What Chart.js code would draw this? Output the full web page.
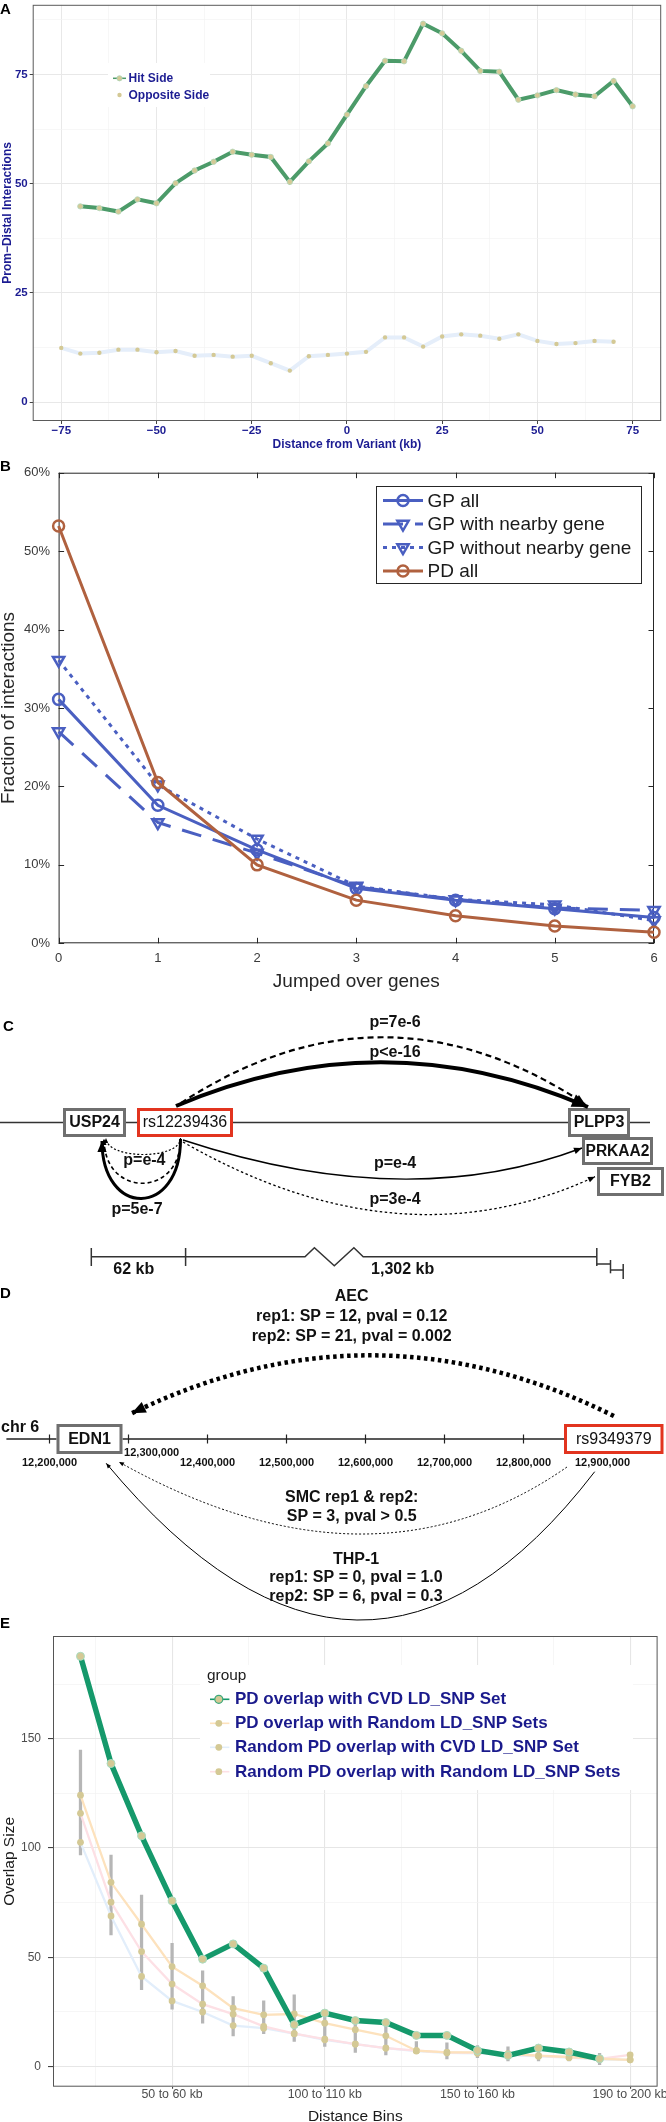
<!DOCTYPE html>
<html lang="en">
<head>
<meta charset="utf-8">
<title>Promoter-distal interactions</title>
<script src="https://cdn.jsdelivr.net/npm/chart.js@4.4.1/dist/chart.umd.min.js"></script>
<style>
  html, body { margin: 0; padding: 0; background: #fff; }
  #page { position: relative; width: 666px; height: 2122px; overflow: hidden; font-family: 'Liberation Sans', Arial, sans-serif; }
  #page canvas { position: absolute; left: 0; }
  .panel-letter { position: absolute; font-weight: bold; font-size: 15px; line-height: 1; color: #000; }
</style>
</head>
<body>
<div id="page">
  <canvas id="chart-a" width="666" height="455" style="top:0"></canvas>
  <canvas id="chart-b" width="666" height="545" style="top:455px"></canvas>
  <canvas id="diagram-c" width="666" height="290" style="top:1000px"></canvas>
  <canvas id="diagram-d" width="666" height="345" style="top:1280px"></canvas>
  <canvas id="chart-e" width="666" height="497" style="top:1625px"></canvas>
  <div class="panel-letter" style="left:0;top:1px">A</div>
  <div class="panel-letter" style="left:0;top:458px">B</div>
  <div class="panel-letter" style="left:3px;top:1018px">C</div>
  <div class="panel-letter" style="left:0;top:1285px">D</div>
  <div class="panel-letter" style="left:0;top:1615px">E</div>
</div>
<script>
const FONT = "'Liberation Sans', Arial, Helvetica, sans-serif";
const NAVY = '#1c1c92';
const TAN = '#d4c995';

// --- A: interactions by distance from variant ---
const distA = [-75, -70, -65, -60, -55, -50, -45, -40, -35, -30, -25, -20, -15, -10, -5, 0, 5, 10, 15, 20, 25, 30, 35, 40, 45, 50, 55, 60, 65, 70, 75];
const hitSide = [null, 44.8, 44.4, 43.6, 46.4, 45.5, 50.1, 53.0, 55.0, 57.3, 56.6, 56.1, 50.4, 55.1, 59.2, 65.8, 72.3, 78.1, 78.0, 86.6, 84.4, 80.4, 75.8, 75.6, 69.2, 70.2, 71.4, 70.4, 70.0, 73.5, 67.7];
const oppositeSide = [12.4, 11.1, 11.3, 12.0, 12.0, 11.4, 11.7, 10.6, 10.8, 10.4, 10.6, 8.9, 7.2, 10.5, 10.8, 11.1, 11.5, 14.8, 14.8, 12.7, 15.0, 15.5, 15.2, 14.5, 15.5, 14.0, 13.3, 13.5, 14.0, 13.8, null];
const yTicksA = [0, 12.5, 25, 37.5, 50, 62.5, 75, 87.5];
const yMajorA = [0, 25, 50, 75];
const xTicksA = [-75, -62.5, -50, -37.5, -25, -12.5, 0, 12.5, 25, 37.5, 50, 62.5, 75];
const xMajorA = [-75, -50, -25, 0, 25, 50, 75];

// --- B: jumped over genes ---
const jumped = [0, 1, 2, 3, 4, 5, 6];
const gpAll = [31.1, 17.6, 11.9, 7.0, 5.5, 4.4, 3.3];
const gpNearby = [27.0, 15.4, 11.5, 7.2, 5.6, 4.5, 4.2];
const gpNoNearby = [36.1, 20.2, 13.3, 7.3, 5.6, 4.9, 2.9];
const pdAll = [53.2, 20.5, 10.0, 5.5, 3.5, 2.2, 1.4];
const yTicksB = [0, 10, 20, 30, 40, 50, 60];

// --- C: rs12239436 locus ---
const genesC = ['USP24', 'PLPP3', 'PRKAA2', 'FYB2'];
const snpC = 'rs12239436';
const pvalsC = ['p=7e-6', 'p<e-16', 'p=e-4', 'p=5e-7', 'p=e-4', 'p=3e-4'];
const distLabelsC = ['62 kb', '1,302 kb'];

// --- D: rs9349379 / EDN1 locus ---
const chromD = 'chr 6';
const geneD = 'EDN1';
const snpD = 'rs9349379';
const posTicksD = [12200000, 12300000, 12400000, 12500000, 12600000, 12700000, 12800000, 12900000];
const aecText = ['AEC', 'rep1: SP = 12, pval = 0.12', 'rep2: SP = 21, pval = 0.002'];
const smcText = ['SMC rep1 & rep2:', 'SP = 3, pval > 0.5'];
const thpText = ['THP-1', 'rep1: SP = 0, pval = 1.0', 'rep2: SP = 6, pval = 0.3'];

// --- E: overlap size by distance bin ---
const binPos = [2, 3, 4, 5, 6, 7, 8, 9, 10, 11, 12, 13, 14, 15, 16, 17, 18, 19, 20];
const pdCvd = [187.8, 138.7, 105.6, 75.8, 49.1, 56.1, 45.0, 19.1, 24.4, 21.0, 20.1, 14.2, 14.2, 7.3, 5.0, 8.4, 6.6, 3.5, null];
const pdRandom = [124.2, 84.3, 65.1, 45.7, 36.9, 26.7, 23.6, 24.0, 19.8, 16.8, 14.0, 7.2, 6.4, 6.4, 5.8, 4.9, 4.3, 3.5, 3.0];
const randomCvd = [102.6, 68.9, 41.2, 30.0, 24.9, 18.7, 17.5, 15.0, 12.2, 10.2, 8.4, 7.0, 6.2, 6.0, 5.3, 4.6, 4.0, 3.2, 3.0];
const randomRandom = [115.9, 75.2, 52.6, 37.7, 28.5, 23.9, 18.3, 15.0, 12.5, 10.2, 8.4, 7.2, 6.4, 6.2, 5.5, 4.8, 4.2, 3.4, 5.3];
const rangeLow = [96.8, 60.2, 35.1, 26.2, 19.8, 14.0, 15.0, 11.4, 9.1, 6.4, 5.3, 6.1, 3.4, 4.0, 2.5, 2.5, 2.5, 0.8, 2.5];
const rangeHigh = [144.8, 96.8, 78.5, 56.4, 43.8, 32.0, 30.0, 32.8, 24.4, 21.4, 18.3, 11.4, 10.8, 9.5, 9.0, 7.0, 6.0, 6.0, 6.0];
const groupsE = ['PD overlap with CVD LD_SNP Set', 'PD overlap with Random LD_SNP Sets', 'Random PD overlap with CVD LD_SNP Set', 'Random PD overlap with Random LD_SNP Sets'];
const xTicksE = [2.5, 5, 7.5, 10, 12.5, 15, 17.5, 20];
const xLabelPosE = [5, 10, 15, 20];
const xLabelsE = ['50 to 60 kb', '100 to 110 kb', '150 to 160 kb', '190 to 200 kb'];
const yTicksE = [0, 25, 50, 75, 100, 125, 150, 175];
const yMajorE = [0, 50, 100, 150];

Chart.defaults.font.family = FONT;

// ---------- drawing helpers ----------
function dot(ctx, x, y, r, fill, stroke, lw) {
    ctx.beginPath();
    ctx.arc(x, y, r, 0, Math.PI * 2);
    ctx.fillStyle = fill;
    ctx.fill();
    if (stroke) {
        ctx.lineWidth = lw || 1;
        ctx.strokeStyle = stroke;
        ctx.stroke();
    }
}

function segment(ctx, x1, y1, x2, y2, color, width, dash) {
    ctx.save();
    ctx.strokeStyle = color;
    ctx.lineWidth = width;
    ctx.setLineDash(dash || []);
    ctx.beginPath();
    ctx.moveTo(x1, y1);
    ctx.lineTo(x2, y2);
    ctx.stroke();
    ctx.restore();
}

function polyline(ctx, pts, color, width) {
    ctx.save();
    ctx.strokeStyle = color;
    ctx.lineWidth = width;
    ctx.beginPath();
    pts.forEach((p, i) => i ? ctx.lineTo(p[0], p[1]) : ctx.moveTo(p[0], p[1]));
    ctx.stroke();
    ctx.restore();
}

function arrowHead(ctx, x, y, ang, len) {
    const half = len * 0.42;
    ctx.save();
    ctx.translate(x, y);
    ctx.rotate(ang);
    ctx.beginPath();
    ctx.moveTo(0, 0);
    ctx.lineTo(-len, -half);
    ctx.lineTo(-len, half);
    ctx.closePath();
    ctx.fillStyle = '#000';
    ctx.fill();
    ctx.restore();
}

function arc(ctx, pts, opt) {
    ctx.save();
    ctx.strokeStyle = '#000';
    ctx.lineWidth = opt.width;
    ctx.setLineDash(opt.dash || []);
    ctx.beginPath();
    ctx.moveTo(pts[0][0], pts[0][1]);
    if (pts.length === 3) {
        ctx.quadraticCurveTo(pts[1][0], pts[1][1], pts[2][0], pts[2][1]);
    } else {
        ctx.bezierCurveTo(pts[1][0], pts[1][1], pts[2][0], pts[2][1], pts[3][0], pts[3][1]);
    }
    ctx.stroke();
    ctx.restore();
    if (opt.arrow) {
        const end = pts[pts.length - 1];
        const prev = pts[pts.length - 2];
        arrowHead(ctx, end[0], end[1], Math.atan2(end[1] - prev[1], end[0] - prev[0]), opt.arrow);
    }
}

function text(ctx, str, x, y, size, weight, align) {
    ctx.font = `${weight || 'bold'} ${size}px ${FONT}`;
    ctx.fillStyle = '#111';
    ctx.textAlign = align || 'center';
    ctx.textBaseline = 'middle';
    ctx.fillText(str, x, y);
}

function labelBox(ctx, str, x, y, w, h, color, weight) {
    ctx.save();
    ctx.fillStyle = '#fff';
    ctx.fillRect(x, y, w, h);
    ctx.strokeStyle = color;
    ctx.lineWidth = 3;
    ctx.strokeRect(x + 1.5, y + 1.5, w - 3, h - 3);
    ctx.font = `${weight || 'bold'} 16px ${FONT}`;
    ctx.fillStyle = '#111';
    ctx.textAlign = 'center';
    ctx.textBaseline = 'middle';
    ctx.fillText(str, x + w / 2, y + h / 2 + 0.5, w - 7);
    ctx.restore();
}

function marker(ctx, style, x, y, r, color, lw) {
    ctx.save();
    ctx.strokeStyle = color;
    ctx.lineWidth = lw;
    ctx.setLineDash([]);
    ctx.beginPath();
    if (style === 'circle') {
        ctx.arc(x, y, r, 0, Math.PI * 2);
    } else {
        const w = r * Math.sin(Math.PI / 3);
        ctx.moveTo(x, y + r);
        ctx.lineTo(x - w, y - r / 2);
        ctx.lineTo(x + w, y - r / 2);
        ctx.closePath();
    }
    ctx.stroke();
    ctx.restore();
}

const baseOptions = () => ({
    animation: false,
    responsive: false,
    devicePixelRatio: 1,
    plugins: { legend: { display: false }, tooltip: { enabled: false } }
});

// ---------- panel A ----------
function renderPanelA() {
    const frameA = {
        id: 'frameA',
        afterDatasetsDraw(chart) {
            const { ctx, chartArea: a } = chart;
            ctx.save();
            ctx.strokeStyle = '#5a5a5a';
            ctx.lineWidth = 1;
            ctx.strokeRect(a.left + 0.5, a.top + 0.5, a.width - 1, a.height - 1);

            // legend
            const opp = chart.data.datasets[0];
            const hit = chart.data.datasets[1];
            ctx.fillStyle = '#fff';
            ctx.fillRect(108, 63, 102, 44);
            segment(ctx, 113, 78.3, 126, 78.3, hit.borderColor, 1.5);
            dot(ctx, 119.5, 78.3, 2.6, TAN, '#a8d3b4', 0.8);
            dot(ctx, 119.5, 95, 2.2, TAN);
            ctx.font = `bold 12px ${FONT}`;
            ctx.fillStyle = NAVY;
            ctx.textAlign = 'left';
            ctx.textBaseline = 'middle';
            ctx.fillText(hit.label, 128.5, 78.8);
            ctx.fillText(opp.label, 128.5, 95.5);
            ctx.restore();
        }
    };

    new Chart(document.getElementById('chart-a'), {
        type: 'line',
        data: {
            datasets: [{
                label: 'Opposite Side',
                data: distA.map((x, i) => ({ x, y: oppositeSide[i] })),
                borderColor: '#e5eefa',
                borderWidth: 4,
                pointRadius: 2.2,
                pointBackgroundColor: TAN,
                pointBorderWidth: 0,
                order: 1
            }, {
                label: 'Hit Side',
                data: distA.map((x, i) => ({ x, y: hitSide[i] })),
                borderColor: '#4c9b69',
                borderWidth: 4,
                pointRadius: 2.7,
                pointBackgroundColor: TAN,
                pointBorderColor: '#b4d9bd',
                pointBorderWidth: 0.8,
                order: 0
            }]
        },
        options: {
            ...baseOptions(),
            layout: { padding: { top: 2.7, right: 2, left: 0, bottom: 0 } },
            scales: {
                x: {
                    type: 'linear',
                    min: -82.5,
                    max: 82.5,
                    afterBuildTicks: s => { s.ticks = xTicksA.map(v => ({ value: v })); },
                    afterFit: s => { s.height = 34; s.paddingLeft = 0; s.paddingRight = 0; },
                    ticks: {
                        autoSkip: false,
                        maxRotation: 0,
                        padding: 0,
                        color: NAVY,
                        font: { size: 11.5, weight: 'bold' },
                        callback: v => xMajorA.includes(v) ? String(v).replace('-', '\u2212') : ''
                    },
                    grid: {
                        color: c => xMajorA.includes(c.tick.value) ? '#e8e8e8' : '#f3f3f3',
                        lineWidth: c => xMajorA.includes(c.tick.value) ? 1 : 0.7,
                        tickLength: 3,
                        tickColor: c => xMajorA.includes(c.tick.value) ? '#444' : 'rgba(0,0,0,0)'
                    },
                    border: { display: false },
                    title: {
                        display: true,
                        text: 'Distance from Variant (kb)',
                        color: NAVY,
                        font: { size: 12, weight: 'bold' },
                        padding: { top: 0, bottom: 2.8 }
                    }
                },
                y: {
                    min: -4.33,
                    max: 90.93,
                    afterBuildTicks: s => { s.ticks = yTicksA.map(v => ({ value: v })); },
                    afterFit: s => { s.width = 32.7; s.paddingTop = 0; s.paddingBottom = 0; },
                    ticks: {
                        autoSkip: false,
                        padding: 2,
                        color: NAVY,
                        font: { size: 11.5, weight: 'bold' },
                        callback: v => yMajorA.includes(v) ? String(v) : ''
                    },
                    grid: {
                        color: c => yMajorA.includes(c.tick.value) ? '#e8e8e8' : '#f3f3f3',
                        lineWidth: c => yMajorA.includes(c.tick.value) ? 1 : 0.7,
                        tickLength: 3,
                        tickColor: c => yMajorA.includes(c.tick.value) ? '#444' : 'rgba(0,0,0,0)'
                    },
                    border: { display: false },
                    title: {
                        display: true,
                        text: 'Prom\u2212Distal Interactions',
                        color: NAVY,
                        font: { size: 12, weight: 'bold' },
                        padding: { top: 0, bottom: 0 }
                    }
                }
            }
        },
        plugins: [frameA]
    });
}

// ---------- panel B ----------
function renderPanelB() {
    const series = (label, values, color, style, dash, order) => ({
        label,
        data: jumped.map((x, i) => ({ x, y: values[i] })),
        borderColor: color,
        borderWidth: 3,
        borderDash: dash,
        pointStyle: style,
        pointRotation: style === 'triangle' ? 180 : 0,
        pointRadius: style === 'triangle' ? 6.5 : 5.5,
        pointBorderWidth: 2.5,
        pointBorderColor: color,
        pointBackgroundColor: 'rgba(0,0,0,0)',
        clip: false,
        order
    });

    const frameB = {
        id: 'frameB',
        beforeDatasetsDraw(chart) {
            const { ctx, chartArea: a, scales: { x, y } } = chart;
            ctx.save();
            ctx.strokeStyle = '#262626';
            ctx.lineWidth = 1;
            ctx.strokeRect(a.left + 0.5, a.top + 0.5, a.width - 1, a.height - 1);
            jumped.forEach(v => {
                const px = Math.round(x.getPixelForValue(v)) + 0.5;
                segment(ctx, px, a.bottom, px, a.bottom - 5.5, '#262626', 1);
                segment(ctx, px, a.top, px, a.top + 5.5, '#262626', 1);
            });
            yTicksB.forEach(v => {
                const py = Math.round(y.getPixelForValue(v)) + 0.5;
                segment(ctx, a.left, py, a.left + 5.5, py, '#262626', 1);
                segment(ctx, a.right, py, a.right - 5.5, py, '#262626', 1);
            });
            ctx.restore();
        },
        afterDraw(chart) {
            const ctx = chart.ctx;
            ctx.save();
            ctx.fillStyle = '#fff';
            ctx.fillRect(376.5, 31.5, 265, 97);
            ctx.strokeStyle = '#262626';
            ctx.lineWidth = 1;
            ctx.strokeRect(376.5, 31.5, 265, 97);
            const rowY = [45.5, 69, 92.5, 116];
            chart.data.datasets.forEach((ds, i) => {
                const yy = rowY[i];
                segment(ctx, 383, yy, 423, yy, ds.borderColor, 3, ds.borderDash);
                marker(ctx, ds.pointStyle, 403, yy, ds.pointRadius, ds.borderColor, 2.5);
                ctx.font = `19px ${FONT}`;
                ctx.fillStyle = '#1a1a1a';
                ctx.textAlign = 'left';
                ctx.textBaseline = 'middle';
                ctx.fillText(ds.label, 427.5, yy + 1);
            });
            ctx.restore();
        }
    };

    new Chart(document.getElementById('chart-b'), {
        type: 'line',
        data: {
            datasets: [
                series('GP all', gpAll, '#4a5fc1', 'circle', [], 3),
                series('GP with nearby gene', gpNearby, '#4a5fc1', 'triangle', [20, 12], 2),
                series('GP without nearby gene', gpNoNearby, '#4a5fc1', 'triangle', [4, 5], 1),
                series('PD all', pdAll, '#b0613f', 'circle', [], 0)
            ]
        },
        options: {
            ...baseOptions(),
            layout: { padding: { top: 17.7, right: 12, left: 0, bottom: 0 } },
            scales: {
                x: {
                    type: 'linear',
                    min: 0,
                    max: 6,
                    afterFit: s => { s.height = 56.7; s.paddingLeft = 0; s.paddingRight = 0; },
                    ticks: { stepSize: 1, autoSkip: false, maxRotation: 0, padding: 6.9, color: '#3a3a3a', font: { size: 13 } },
                    grid: { display: false, drawTicks: false },
                    border: { display: false },
                    title: {
                        display: true,
                        text: 'Jumped over genes',
                        color: '#262626',
                        font: { size: 19 },
                        padding: { top: 0, bottom: 6.9 }
                    }
                },
                y: {
                    min: 0,
                    max: 60,
                    afterFit: s => { s.width = 58.6; s.paddingTop = 0; s.paddingBottom = 0; },
                    ticks: { stepSize: 10, padding: 8.5, color: '#3a3a3a', font: { size: 13 }, callback: v => v + '%' },
                    grid: { display: false, drawTicks: false },
                    border: { display: false },
                    title: {
                        display: true,
                        text: 'Fraction of interactions',
                        color: '#262626',
                        font: { size: 19 },
                        padding: { top: -2.9, bottom: 0 }
                    }
                }
            }
        },
        plugins: [frameB]
    });
}

// ---------- panel C (locus diagram) ----------
function renderDiagramC() {
    const drawC = {
        id: 'drawC',
        afterDraw(chart) {
            const ctx = chart.ctx;
            ctx.save();
            ctx.translate(0, -1000);

            segment(ctx, 0, 1122.5, 650, 1122.5, '#333', 1.5);
            labelBox(ctx, genesC[0], 63, 1108, 63, 29, '#6f6f6f');
            labelBox(ctx, snpC, 137, 1108, 96, 29, '#e2341f', 'normal');
            labelBox(ctx, genesC[1], 568, 1108, 62, 29, '#6f6f6f');
            labelBox(ctx, genesC[2], 582, 1137, 71, 28, '#6f6f6f');
            labelBox(ctx, genesC[3], 597, 1167, 67, 29, '#6f6f6f');

            // arcs above the line
            arc(ctx, [[181, 1103], [383, 971], [585, 1104]], { width: 2.2, dash: [6, 4], arrow: 10 });
            arc(ctx, [[176, 1106], [382, 1018], [588, 1107]], { width: 4, arrow: 16 });
            // short arcs to USP24
            arc(ctx, [[180.5, 1138], [180.5, 1160], [106, 1160], [106, 1138]], { width: 1.2, dash: [2, 2], arrow: 5 });
            arc(ctx, [[180.5, 1139], [180.5, 1198], [104, 1198], [104, 1139]], { width: 1.6, dash: [4, 3], arrow: 6 });
            arc(ctx, [[180.5, 1139], [180.5, 1218], [102, 1218], [102, 1141]], { width: 3, arrow: 11 });
            // long arcs below
            arc(ctx, [[183, 1140], [407, 1214], [582, 1148]], { width: 1.4, arrow: 8 });
            arc(ctx, [[183, 1142], [401, 1267], [595, 1176.7]], { width: 1.3, dash: [2.5, 2.5], arrow: 7 });

            text(ctx, pvalsC[0], 395, 1023, 16);
            text(ctx, pvalsC[1], 395, 1053, 16);
            text(ctx, pvalsC[2], 144.4, 1161, 16);
            text(ctx, pvalsC[3], 137, 1210, 16);
            text(ctx, pvalsC[4], 395, 1164, 16);
            text(ctx, pvalsC[5], 395, 1199.3, 16);

            // distance scale
            polyline(ctx, [[91.3, 1256.7], [305, 1256.7], [314.4, 1247.7], [334.3, 1265.7], [353.9, 1247.7], [363.2, 1256.7], [596.8, 1256.7]], '#333', 1.5);
            [91.3, 185.6, 596.8].forEach(x => segment(ctx, x, 1248, x, 1266, '#333', 1.5));
            polyline(ctx, [[596.8, 1264], [610.5, 1264]], '#333', 1.5);
            segment(ctx, 610.5, 1260, 610.5, 1273.3, '#333', 1.5);
            polyline(ctx, [[610.5, 1270], [623.2, 1270]], '#333', 1.5);
            segment(ctx, 623.2, 1264, 623.2, 1279, '#333', 1.5);
            text(ctx, distLabelsC[0], 133.8, 1269.5, 16);
            text(ctx, distLabelsC[1], 402.7, 1269.5, 16);
            ctx.restore();
        }
    };

    new Chart(document.getElementById('diagram-c'), {
        type: 'scatter',
        data: { datasets: [] },
        options: {
            ...baseOptions(),
            layout: { padding: 0 },
            scales: { x: { display: false, min: 0, max: 666 }, y: { display: false, min: 0, max: 290 } }
        },
        plugins: [drawC]
    });
}

// ---------- panel D (locus diagram on a genomic axis) ----------
function renderDiagramD() {
    const drawD = {
        id: 'drawD',
        afterDraw(chart) {
            const ctx = chart.ctx;
            const x = chart.scales.x;
            ctx.save();
            ctx.translate(0, -1280);

            aecText.forEach((t, i) => text(ctx, t, 351.7, 1297 + i * 20, 16));

            text(ctx, chromD, 1, 1427.5, 16, 'bold', 'left');
            segment(ctx, 6.4, 1439, 565, 1439, '#222', 1.5);
            posTicksD.forEach(v => {
                const px = x.getPixelForValue(v);
                segment(ctx, px, 1434.5, px, 1443.5, '#222', 1.2);
                const lbl = v.toLocaleString('en-US');
                if (v === 12300000) {
                    text(ctx, lbl, px - 4.4, 1453, 11, 'bold', 'left');
                } else {
                    text(ctx, lbl, px, 1463.3, 11, 'bold');
                }
            });
            labelBox(ctx, geneD, 56.5, 1424, 66, 30, '#6f6f6f');
            labelBox(ctx, snpD, 564, 1424, 99.5, 30, '#e2341f', 'normal');

            arc(ctx, [[613.9, 1416], [372.8, 1296], [131.7, 1413.3]], { width: 4.5, dash: [3.5, 3.5], arrow: 14 });
            arc(ctx, [[567, 1467], [371, 1603.5], [119, 1462]], { width: 1, dash: [2, 2], arrow: 5 });
            arc(ctx, [[594.7, 1471.7], [363.5, 1772.5], [106.2, 1463.3]], { width: 1, arrow: 5 });

            smcText.forEach((t, i) => text(ctx, t, 351.7, 1497.7 + i * 19, 16));
            thpText.forEach((t, i) => text(ctx, t, 356, 1559.3 + i * 18.7, 16));
            ctx.restore();
        }
    };

    new Chart(document.getElementById('diagram-d'), {
        type: 'scatter',
        data: { datasets: [] },
        options: {
            ...baseOptions(),
            layout: { padding: 0 },
            scales: {
                x: { type: 'linear', display: false, min: 12137342, max: 12980380 },
                y: { display: false, min: 0, max: 345 }
            }
        },
        plugins: [drawD]
    });
}

// ---------- panel E ----------
function renderPanelE() {
    const pts = values => binPos.map((x, i) => ({ x, y: values[i] }));
    const faint = (label, values, color, order) => ({
        type: 'line',
        label,
        data: pts(values),
        borderColor: color,
        borderWidth: 2.3,
        pointRadius: 3.4,
        pointBackgroundColor: TAN,
        pointBorderWidth: 0,
        order
    });

    const frameE = {
        id: 'frameE',
        afterDatasetsDraw(chart) {
            const { ctx, chartArea: a } = chart;
            ctx.save();
            ctx.strokeStyle = '#555';
            ctx.lineWidth = 1;
            ctx.strokeRect(a.left + 0.5, a.top + 0.5, a.width - 1, a.height - 1);

            // legend
            ctx.fillStyle = '#fff';
            ctx.fillRect(200, 40, 433, 125);
            ctx.font = `15.4px ${FONT}`;
            ctx.fillStyle = '#1a1a1a';
            ctx.textAlign = 'left';
            ctx.textBaseline = 'middle';
            ctx.fillText('group', 207, 51);
            const rowY = [74.3, 98.3, 122.3, 146.7];
            for (let i = 0; i < 4; i++) {
                const ds = chart.data.datasets[i];
                segment(ctx, 210, rowY[i], 229.4, rowY[i], ds.borderColor, 1.6);
                if (i === 0) dot(ctx, 218.8, rowY[i], 4, TAN, '#3aa97c', 1.2);
                else dot(ctx, 218.8, rowY[i], 3.4, TAN);
                ctx.font = `bold 17px ${FONT}`;
                ctx.fillStyle = '#1a1a8c';
                ctx.fillText(ds.label, 235, rowY[i] + 0.5);
            }
            ctx.restore();
        }
    };

    new Chart(document.getElementById('chart-e'), {
        type: 'line',
        data: {
            datasets: [{
                type: 'line',
                label: groupsE[0],
                data: pts(pdCvd),
                borderColor: '#15996b',
                borderWidth: 5.5,
                pointRadius: 4,
                pointBackgroundColor: TAN,
                pointBorderColor: '#a8dcc0',
                pointBorderWidth: 1,
                order: 0
            },
            faint(groupsE[1], pdRandom, '#fde2bd', 2),
            faint(groupsE[2], randomCvd, '#e2eefb', 4),
            faint(groupsE[3], randomRandom, '#fde0e5', 3),
            {
                type: 'bar',
                label: 'range',
                data: binPos.map((x, i) => ({ x, y: [rangeLow[i], rangeHigh[i]] })),
                backgroundColor: '#b6b6b6',
                barThickness: 2.6,
                order: 10
            }]
        },
        options: {
            ...baseOptions(),
            layout: { padding: { top: 11, right: 8.4, left: 0, bottom: 0 } },
            scales: {
                x: {
                    type: 'linear',
                    min: 1.1,
                    max: 20.9,
                    offset: false,
                    afterBuildTicks: s => { s.ticks = xTicksE.map(v => ({ value: v })); },
                    afterFit: s => { s.height = 35.3; s.paddingLeft = 0; s.paddingRight = 0; },
                    ticks: {
                        autoSkip: false,
                        maxRotation: 0,
                        padding: -2,
                        color: '#4d4d4d',
                        font: { size: 12.4 },
                        callback: v => { const i = xLabelPosE.indexOf(v); return i >= 0 ? xLabelsE[i] : ''; }
                    },
                    grid: {
                        offset: false,
                        color: c => xLabelPosE.includes(c.tick.value) ? '#e6e6e6' : '#f2f2f2',
                        lineWidth: c => xLabelPosE.includes(c.tick.value) ? 1.1 : 0.7,
                        tickLength: 2,
                        tickColor: c => xLabelPosE.includes(c.tick.value) ? '#444' : 'rgba(0,0,0,0)'
                    },
                    border: { display: false },
                    title: {
                        display: true,
                        text: 'Distance Bins',
                        color: '#1a1a1a',
                        font: { size: 15.5 },
                        padding: { top: 0, bottom: -4.3 }
                    }
                },
                y: {
                    min: -9.3,
                    max: 197.1,
                    afterBuildTicks: s => { s.ticks = yTicksE.map(v => ({ value: v })); },
                    afterFit: s => { s.width = 53; s.paddingTop = 0; s.paddingBottom = 0; },
                    ticks: {
                        autoSkip: false,
                        padding: 7,
                        color: '#4d4d4d',
                        font: { size: 12 },
                        callback: v => yMajorE.includes(v) ? String(v) : ''
                    },
                    grid: {
                        color: c => yMajorE.includes(c.tick.value) ? '#e6e6e6' : '#f2f2f2',
                        lineWidth: c => yMajorE.includes(c.tick.value) ? 1.1 : 0.7,
                        tickLength: 5,
                        tickColor: c => yMajorE.includes(c.tick.value) ? '#444' : 'rgba(0,0,0,0)'
                    },
                    border: { display: false },
                    title: {
                        display: true,
                        text: 'Overlap Size',
                        color: '#1a1a1a',
                        font: { size: 15.5 },
                        padding: { top: 0, bottom: 0 }
                    }
                }
            }
        },
        plugins: [frameE]
    });
}

document.addEventListener('DOMContentLoaded', () => {
    renderPanelA();
    renderPanelB();
    renderDiagramC();
    renderDiagramD();
    renderPanelE();
});
</script>
</body>
</html>
